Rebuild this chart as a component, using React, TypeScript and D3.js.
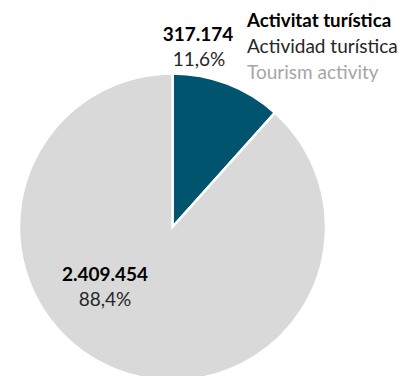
import React from "react";
import * as d3 from "d3";

const categories = ["Activitat turística", "Resta"];
const values = [317174, 2409454];
const valueLabels = ["317.174", "2.409.454"];
const percentLabels = ["11,6%", "88,4%"];
const legendLines = ["Activitat turística", "Actividad turística", "Tourism activity"];
const colors = ["#00546E", "#D9D9D9"];

const W = 404;
const H = 376;
const FONT = "Lato, 'Open Sans', sans-serif";

export default function App() {
  const cx = 172.5;
  const cy = 227;
  const r = 153.5;
  const pie = d3.pie<number>().sort(null).value((d) => d)(values);
  const arc = d3.arc<d3.PieArcDatum<number>>().innerRadius(0).outerRadius(r);
  return (
    <svg width={W} height={H} style={{ position: "absolute", left: 0, top: 0 }}>
      <g transform={`translate(${cx},${cy})`}>
        {pie.map((p, i) => (
          <path key={categories[i]} d={arc(p) || ""} fill={colors[i]} stroke="#fff" strokeWidth={2.5} strokeLinejoin="miter" />
        ))}
      </g>
      <g fontFamily={FONT} fontSize={19}>
        <text x={198} y={41} textAnchor="middle" fontWeight="bold" fill="#000">{valueLabels[0]}</text>
        <text x={199} y={66} textAnchor="middle" fill="#262626">{percentLabels[0]}</text>
        <text x={105} y={281} textAnchor="middle" fontWeight="bold" fill="#000">{valueLabels[1]}</text>
        <text x={105} y={306} textAnchor="middle" fill="#262626">{percentLabels[1]}</text>
        <text x={247} y={27} fontWeight="bold" fill="#000" fontSize={18.7}>{legendLines[0]}</text>
        <text x={247} y={53} fill="#262626">{legendLines[1]}</text>
        <text x={247} y={79} fill="#A6A6A6">{legendLines[2]}</text>
      </g>
    </svg>
  );
}
